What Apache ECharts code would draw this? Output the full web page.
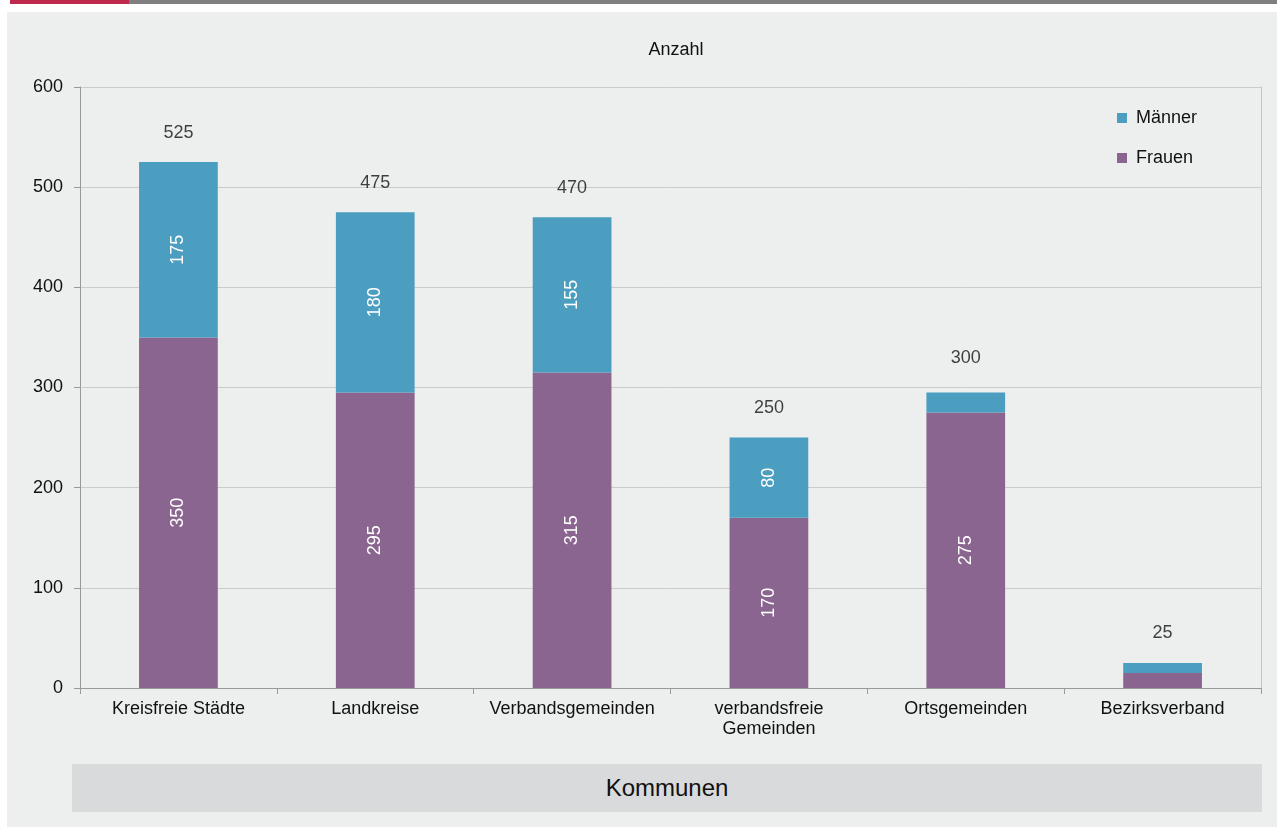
<!DOCTYPE html>
<html><head><meta charset="utf-8">
<script src="https://cdn.jsdelivr.net/npm/echarts@6/dist/echarts.min.js"></script>
<style>
html,body{margin:0;padding:0;background:#fff;width:1277px;height:827px;overflow:hidden;font-family:Arial,"Liberation Sans",sans-serif;}
#redbar{position:absolute;left:10px;top:0;width:119px;height:4px;background:#be2a4c;}
#greybar{position:absolute;left:129px;top:0;width:1148px;height:4px;background:#7f7f7f;}
#panel{position:absolute;left:7px;top:12px;width:1270px;height:815px;background:#edeeee;}
#kbox{position:absolute;left:72px;top:764px;width:1190px;height:48px;background:#d9dadc;color:#111;font-size:24px;line-height:48px;text-align:center;font-family:Arial,"Liberation Sans",sans-serif;}
#chart{position:absolute;left:0;top:0;width:1277px;height:827px;}
</style></head>
<body>
<div id="redbar"></div><div id="greybar"></div>
<div id="panel"></div>
<div id="kbox">Kommunen</div>
<div id="chart"></div>
<script>
const categories = ["Kreisfreie Städte","Landkreise","Verbandsgemeinden","verbandsfreie\nGemeinden","Ortsgemeinden","Bezirksverband"];
const frauen = [350, 295, 315, 170, 275, 15];
const maenner = [175, 180, 155, 80, 20, 10];
const totals = [525, 475, 470, 250, 300, 25];
const yTicks = [0, 100, 200, 300, 400, 500, 600];

const FONT = 'Arial, "Liberation Sans", sans-serif';
const chart = echarts.init(document.getElementById('chart'), null, {renderer:'canvas'});
const insideLabel = {
  show: true, rotate: 90, color: '#ffffff', fontSize: 18, position: 'inside', fontFamily: FONT,
  formatter: p => (p.value >= 50 ? String(p.value) : '')
};
chart.setOption({
  backgroundColor: 'transparent',
  animation: false,
  title: {
    text: 'Anzahl', left: 671, top: 36, textAlign: 'center',
    textStyle: {fontSize: 18, fontWeight: 'normal', color: '#111', fontFamily: FONT}
  },
  legend: {
    data: ['Männer', 'Frauen'], orient: 'vertical', left: 1112, top: 104,
    itemWidth: 10, itemHeight: 10, itemGap: 22, icon: 'rect',
    textStyle: {fontSize: 18, color: '#111', fontFamily: FONT, padding: [0, 0, 0, 4]}
  },
  grid: {left: 80, right: 16, top: 87, bottom: 139, containLabel: false},
  xAxis: {
    type: 'category', data: categories,
    axisLine: {lineStyle: {color: '#999999'}},
    axisTick: {show: true, length: 6, lineStyle: {color: '#999999'}},
    axisLabel: {fontSize: 18, color: '#111', margin: 11, lineHeight: 20, fontFamily: FONT, interval: 0}
  },
  yAxis: [{
    type: 'value', min: yTicks[0], max: yTicks[yTicks.length-1], interval: 100,
    axisLine: {show: true, lineStyle: {color: '#999999'}},
    axisTick: {show: true, length: 6, lineStyle: {color: '#999999'}},
    axisLabel: {fontSize: 18, color: '#111', margin: 17, fontFamily: FONT},
    splitLine: {lineStyle: {color: '#cbcbcb'}}
  }, {
    type: 'value', position: 'right', min: yTicks[0], max: yTicks[yTicks.length-1], interval: 100,
    axisLine: {show: true, lineStyle: {color: '#c4c4c4'}},
    axisTick: {show: false}, axisLabel: {show: false}, splitLine: {show: false}
  }],
  series: [
    {name: 'Frauen', type: 'bar', stack: 's', data: frauen, barWidth: '40%',
     itemStyle: {color: '#8a658f'}, label: insideLabel},
    {name: 'Männer', type: 'bar', stack: 's', data: maenner, barWidth: '40%',
     itemStyle: {color: '#4b9ec0'}, label: insideLabel},
    {name: 'Summe', type: 'scatter', data: totals, symbolSize: 1,
     itemStyle: {color: 'rgba(0,0,0,0)'}, silent: true,
     label: {show: true, position: 'top', distance: 20, color: '#111', fontSize: 18,
       fontFamily: FONT, formatter: p => String(p.value)}}
  ]
});
</script>
</body></html>
